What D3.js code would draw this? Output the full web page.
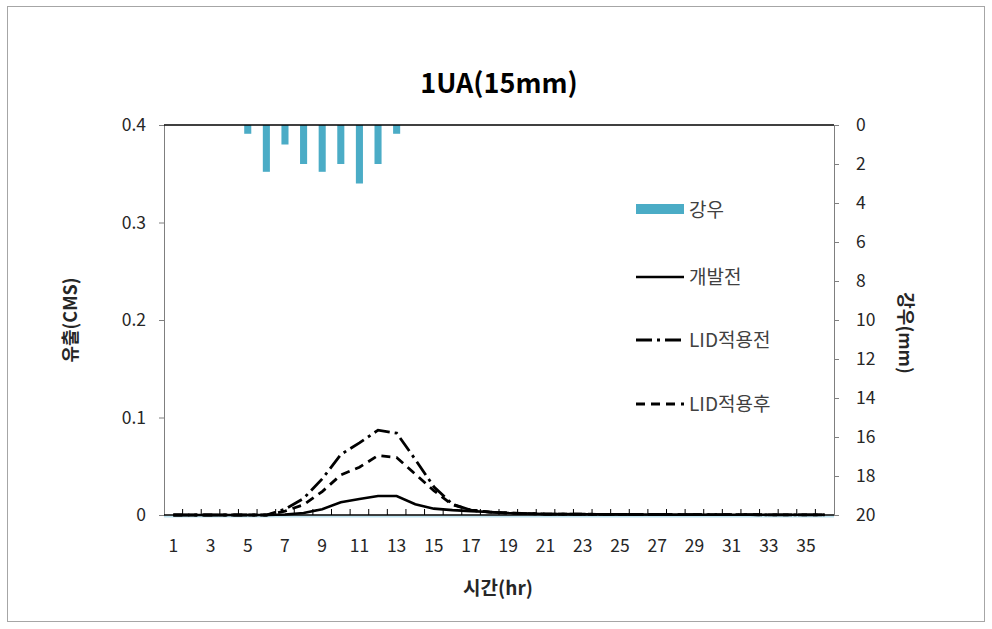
<!DOCTYPE html>
<html>
<head>
<meta charset="utf-8">
<script src="https://cdn.jsdelivr.net/npm/d3@7"></script>
<style>
  html, body { margin: 0; padding: 0; background: #ffffff; }
  svg text { font-family: "Noto Sans CJK KR", "Noto Sans", sans-serif; }
</style>
</head>
<body>
<svg id="chart" width="992" height="629"></svg>
<script>
// Hours 1..36
const hours = d3.range(1, 37);
const hourTickLabels = hours.filter(h => h % 2 === 1);

// Rainfall (mm) per hour
const rainfall = [0,0,0,0,0.45,2.4,1.0,2.0,2.4,2.0,3.0,2.0,0.45,0,0,0,0,0,0,0,0,0,0,0,0,0,0,0,0,0,0,0,0,0,0,0];

// Runoff (CMS) per hour
const preDevelopment = [0,0,0,0,0,0,0.0005,0.002,0.006,0.013,0.0165,0.0195,0.0195,0.011,0.0065,0.005,0.004,0.003,0.002,0.0015,0.001,0.0009,0.0008,0.0007,0.0006,0.0005,0.0005,0.0004,0.0004,0.0003,0.0003,0.0003,0.0002,0.0002,0.0002,0.0002];
const beforeLID = [0,0,0,0,0,0,0.006,0.017,0.037,0.062,0.074,0.087,0.084,0.057,0.029,0.011,0.005,0.003,0.002,0.0015,0.001,0.0009,0.0008,0.0007,0.0006,0.0005,0.0005,0.0004,0.0004,0.0003,0.0003,0.0003,0.0002,0.0002,0.0002,0.0002];
const afterLID = [0,0,0,0,0,0,0.004,0.0105,0.024,0.041,0.049,0.061,0.059,0.042,0.025,0.0105,0.005,0.003,0.002,0.0015,0.001,0.0009,0.0008,0.0007,0.0006,0.0005,0.0005,0.0004,0.0004,0.0003,0.0003,0.0003,0.0002,0.0002,0.0002,0.0002];

const runoffTicks = [0, 0.1, 0.2, 0.3, 0.4];
const rainTicks = d3.range(0, 21, 2);

const seriesNames = { rain: "강우", pre: "개발전", before: "LID적용전", after: "LID적용후" };

const svg = d3.select("#chart");
const plot = { left: 164, right: 834, top: 125, bottom: 515 };
const rainColor = "#4bacc6";
const textColor = "#262626";

// outer frame
svg.append("rect")
  .attr("x", 7.5).attr("y", 6.5).attr("width", 977).attr("height", 615)
  .attr("fill", "#fff").attr("stroke", "#a6a6a6").attr("stroke-width", 1);

const x = d3.scaleBand().domain(hours).range([plot.left, plot.right]).padding(0);
const yL = d3.scaleLinear().domain([0, 0.4]).range([plot.bottom, plot.top]);
const yR = d3.scaleLinear().domain([0, 20]).range([plot.top, plot.bottom]);
const cx = h => x(h) + x.bandwidth() / 2;

// rainfall bars hanging from the top
const barW = x.bandwidth() * 0.38;
svg.append("g").selectAll("rect")
  .data(hours.map((h, i) => ({ h, v: rainfall[i] })).filter(d => d.v > 0))
  .join("rect")
  .attr("x", d => cx(d.h) - barW / 2)
  .attr("y", yR(0))
  .attr("width", barW)
  .attr("height", d => yR(d.v) - yR(0))
  .attr("fill", rainColor);

// left axis
const axL = svg.append("g").attr("transform", `translate(${plot.left},0)`)
  .call(d3.axisLeft(yL).tickValues(runoffTicks).tickSize(5).tickPadding(13)
    .tickFormat(d => d === 0 ? "0" : d3.format(".1f")(d)));
axL.select(".domain").attr("stroke", "#7f7f7f");
axL.selectAll(".tick line").attr("stroke", "#7f7f7f");
axL.selectAll("text").attr("font-size", 17.5).attr("fill", textColor);

// right axis (rainfall, reversed)
const axR = svg.append("g").attr("transform", `translate(${plot.right},0)`)
  .call(d3.axisRight(yR).tickValues(rainTicks).tickSize(5).tickPadding(17));
axR.select(".domain").attr("stroke", "#7f7f7f");
axR.selectAll(".tick line").attr("stroke", "#7f7f7f");
axR.selectAll("text").attr("font-size", 17.5).attr("fill", textColor);

// top line (rainfall baseline)
svg.append("line")
  .attr("x1", plot.left).attr("x2", plot.right)
  .attr("y1", plot.top).attr("y2", plot.top)
  .attr("stroke", "#000").attr("stroke-width", 1.5);

// bottom category axis: boundary ticks pointing up
const axB = svg.append("g").attr("transform", `translate(0,${plot.bottom})`);
axB.append("line")
  .attr("x1", plot.left).attr("x2", plot.right)
  .attr("y1", 1.5).attr("y2", 1.5)
  .attr("stroke", "#bfe3f0").attr("stroke-width", 2);
axB.selectAll("line.tk")
  .data(hours.slice(1))
  .join("line").attr("class", "tk")
  .attr("x1", d => x(d)).attr("x2", d => x(d))
  .attr("y1", 0).attr("y2", -6)
  .attr("stroke", "#000").attr("stroke-width", 1);
axB.append("line")
  .attr("x1", plot.left).attr("x2", plot.right)
  .attr("y1", 0).attr("y2", 0)
  .attr("stroke", "#000").attr("stroke-width", 1.5);
axB.selectAll("text")
  .data(hourTickLabels)
  .join("text")
  .attr("x", d => cx(d))
  .attr("y", 37)
  .attr("text-anchor", "middle")
  .attr("font-size", 17.5)
  .attr("fill", textColor)
  .text(d => d);

// runoff lines
const line = d3.line().x((d, i) => cx(hours[i])).y(d => yL(d));
const styles = [
  { data: preDevelopment, dash: null, w: 2.6 },
  { data: beforeLID, dash: "16,5,3,5", w: 2.8 },
  { data: afterLID, dash: "9,6", w: 2.8 }
];
styles.forEach(s => {
  svg.append("path")
    .datum(s.data)
    .attr("d", line)
    .attr("fill", "none")
    .attr("stroke", "#000")
    .attr("stroke-width", s.w)
    .attr("stroke-dasharray", s.dash);
});

// title
svg.append("text")
  .attr("x", 499).attr("y", 93)
  .attr("text-anchor", "middle")
  .attr("font-size", 27).attr("font-weight", "bold")
  .attr("fill", "#000")
  .text("1UA(15mm)");

// axis titles
svg.append("text")
  .attr("transform", "translate(77,320) rotate(-90)")
  .attr("text-anchor", "middle")
  .attr("font-size", 18).attr("font-weight", "bold")
  .attr("fill", textColor)
  .text("유출(CMS)");
svg.append("text")
  .attr("transform", "translate(899,333) rotate(90)")
  .attr("text-anchor", "middle")
  .attr("font-size", 18).attr("font-weight", "bold")
  .attr("fill", textColor)
  .text("강우(mm)");
svg.append("text")
  .attr("x", 498).attr("y", 595)
  .attr("text-anchor", "middle")
  .attr("font-size", 19).attr("font-weight", "bold")
  .attr("fill", textColor)
  .text("시간(hr)");

// legend
const lg = svg.append("g").attr("transform", "translate(636,0)");
lg.append("rect").attr("x", 0).attr("y", 204).attr("width", 48).attr("height", 10).attr("fill", rainColor);
const legendLines = [
  { y: 277, name: seriesNames.pre, dash: null, w: 2.6 },
  { y: 340, name: seriesNames.before, dash: "16,5,3,5", w: 2.8 },
  { y: 404, name: seriesNames.after, dash: "9,6", w: 2.8 }
];
legendLines.forEach(l => {
  lg.append("line").attr("x1", 0).attr("x2", 48).attr("y1", l.y).attr("y2", l.y)
    .attr("stroke", "#000").attr("stroke-width", l.w).attr("stroke-dasharray", l.dash);
});
const legendText = [
  { y: 210, name: seriesNames.rain },
  ...legendLines
];
legendText.forEach(t => {
  lg.append("text").attr("x", 53).attr("y", t.y)
    .attr("dy", "0.35em")
    .attr("font-size", 19)
    .attr("fill", "#404040")
    .text(t.name);
});
</script>
</body>
</html>
